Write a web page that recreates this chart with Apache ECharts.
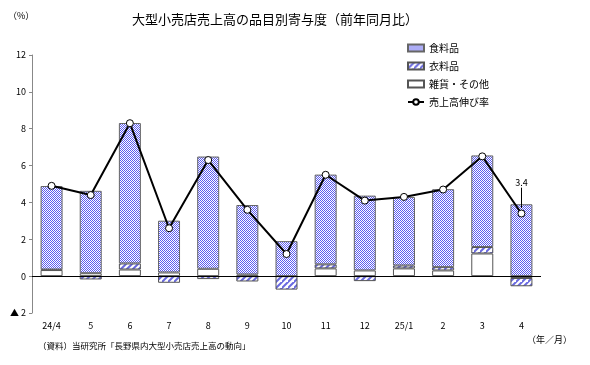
<!DOCTYPE html>
<html><head><meta charset="utf-8">
<script src="https://cdn.jsdelivr.net/npm/echarts@6/dist/echarts.min.js"></script>
<style>html,body{margin:0;padding:0;background:#fff}#c{width:590px;height:365px}</style>
</head><body><div id="c"></div>
<script>
const categories = ['24/4','5','6','7','8','9','10','11','12','25/1','2','3','4'];
const food     = [4.53, 4.47, 7.62, 2.81, 6.09, 3.77, 1.90, 4.87, 4.06, 3.72, 4.23, 4.97, 3.90];
const clothing = [0.03, -0.18, 0.33, -0.36, -0.16, -0.29, -0.73, 0.22, -0.27, 0.16, 0.18, 0.35, -0.45];
const other    = [0.33, 0.16, 0.36, 0.20, 0.40, 0.09, 0.00, 0.42, 0.31, 0.42, 0.31, 1.23, -0.10];
const rate     = [4.9, 4.4, 8.3, 2.6, 6.3, 3.6, 1.2, 5.5, 4.1, 4.3, 4.7, 6.5, 3.4];
const yTicks = {'-2':'▲ 2'};

function checker(){
  const c=document.createElement('canvas');c.width=2;c.height=2;
  const x=c.getContext('2d');x.fillStyle='#fff';x.fillRect(0,0,2,2);
  x.fillStyle='#5c5cf0';x.fillRect(0,0,1,1);x.fillRect(1,1,1,1);return c;
}
function hatch(){
  const n=6;const c=document.createElement('canvas');c.width=n;c.height=n;
  const x=c.getContext('2d');x.fillStyle='#fff';x.fillRect(0,0,n,n);
  x.strokeStyle='#6a6ae0';x.lineWidth=2;
  x.beginPath();x.moveTo(-1,n+1);x.lineTo(n+1,-1);x.moveTo(-1-n,n+1);x.lineTo(1,-1);x.moveTo(n-1,2*n+1);x.lineTo(2*n+1,n-1);x.stroke();
  return c;
}
const FF='"Noto Sans CJK JP", sans-serif';
const chart=echarts.init(document.getElementById('c'));
const last=rate.length-1;
chart.setOption({
  animation:false,
  textStyle:{fontFamily:FF},
  title:{text:'大型小売店売上高の品目別寄与度（前年同月比）',left:270,textAlign:'center',top:8,
    textStyle:{fontSize:13,fontWeight:'normal',color:'#000',fontFamily:FF}},
  legend:{orient:'vertical',left:402,top:38,itemGap:8,itemWidth:16,itemHeight:7,
    data:[{name:'食料品',icon:'rect'},{name:'衣料品',icon:'rect'},{name:'雑貨・その他',icon:'rect'},'売上高伸び率'],
    textStyle:{fontSize:10,color:'#000',fontFamily:FF}},
  grid:{left:32,right:49,top:55,bottom:52},
  xAxis:{type:'category',data:categories,
    axisLine:{show:false,onZero:false},axisTick:{show:false},
    axisLabel:{fontSize:9,color:'#000',margin:8,interval:0}},
  yAxis:{type:'value',min:-2,max:12,interval:2,splitLine:{show:false},
    axisLine:{show:true,lineStyle:{color:'#888'}},axisTick:{show:true,length:3,lineStyle:{color:'#888'}},
    axisLabel:{fontSize:9,color:'#000',margin:6,formatter:v=>yTicks[v]||String(v)}},
  graphic:[
    {type:'text',left:8,top:11,style:{text:'（%）',fontSize:9,fill:'#000',fontFamily:FF}},
    {type:'text',left:527,top:335,style:{text:'（年／月）',fontSize:9,fill:'#000',fontFamily:FF}},
    {type:'text',left:38,top:342,style:{text:'（資料）当研究所「長野県内大型小売店売上高の動向」',fontSize:8.5,fill:'#000',fontFamily:FF}}
  ],
  series:[
    {name:'雑貨・その他',type:'bar',stack:'s',data:other,barWidth:22,
      itemStyle:{color:'#fff',borderColor:'#555',borderWidth:1},
      markLine:{silent:true,symbol:'none',label:{show:false},lineStyle:{color:'#000',width:1,type:'solid'},data:[{yAxis:0}]}},
    {name:'衣料品',type:'bar',stack:'s',data:clothing,barWidth:22,
      itemStyle:{color:{image:hatch(),repeat:'repeat'},borderColor:'#555',borderWidth:1}},
    {name:'食料品',type:'bar',stack:'s',data:food,barWidth:22,
      itemStyle:{color:{image:checker(),repeat:'repeat'},borderColor:'#666',borderWidth:1}},
    {name:'売上高伸び率',type:'line',data:rate.map((v,i)=>i===last?{value:v,label:{show:true,position:'top',distance:22,formatter:'{c}',fontSize:9,color:'#000'}}:v),
      symbol:'circle',symbolSize:7,z:5,
      lineStyle:{color:'#000',width:2},itemStyle:{color:'#fff',borderColor:'#000',borderWidth:1},
      markLine:{silent:true,symbol:'none',label:{show:false},lineStyle:{color:'#000',width:1,type:'solid'},
        data:[[{coord:[categories[last],rate[last]+0.3]},{coord:[categories[last],rate[last]+1.4]}]]}}
  ]
});
</script></body></html>
